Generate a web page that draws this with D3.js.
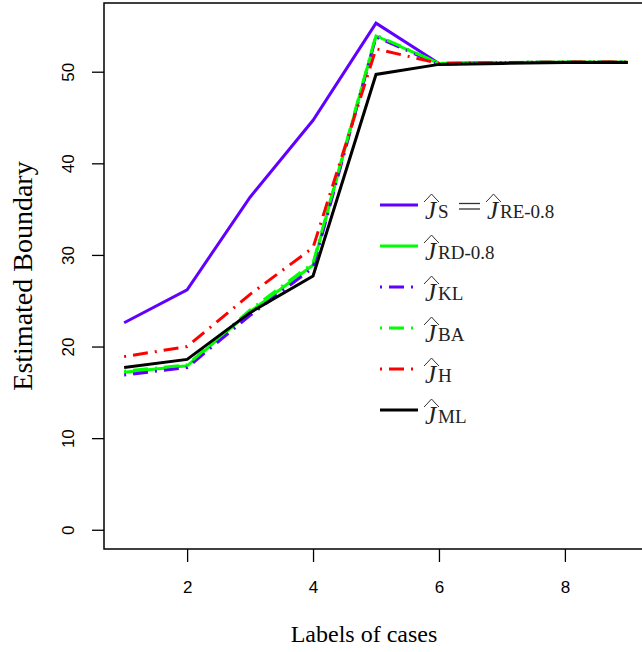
<!DOCTYPE html>
<html>
<head>
<meta charset="utf-8">
<script src="https://cdn.jsdelivr.net/npm/d3@7"></script>
<style>
  body { margin: 0; background: #fff; }
  svg { display: block; }
</style>
</head>
<body>
<div id="chart"></div>
<script>
// case labels on x
var cases = [1, 2, 3, 4, 5, 6, 7, 8, 9];
var xTicks = [2, 4, 6, 8];
var yTicks = [0, 10, 20, 30, 40, 50];

// estimated boundary per method
var jS  = [22.6, 26.2, 36.3, 44.7, 55.3, 50.9, 51.0, 51.0, 51.0];
var jRD = [17.2, 17.9, 23.8, 28.9, 53.9, 50.9, 51.0, 51.05, 51.05];
var jKL = [16.9, 17.7, 23.4, 28.6, 53.8, 50.8, 51.0, 51.05, 51.05];
var jBA = [17.3, 18.0, 24.0, 29.1, 54.0, 50.9, 51.0, 51.05, 51.05];
var jH  = [18.9, 20.0, 25.7, 30.8, 52.5, 50.9, 51.0, 51.05, 51.05];
var jML = [17.7, 18.6, 23.7, 27.7, 49.7, 50.8, 50.9, 51.0, 51.0];

var series = [
  { values: jS,  color: "#6200ff", dash: null,        sub: "S", sub2: "RE-0.8" },
  { values: jRD, color: "#00ff00", dash: null,        sub: "RD-0.8" },
  { values: jKL, color: "#6200ff", dash: "2,7,15,7", sub: "KL" },
  { values: jBA, color: "#00ff00", dash: "2,7,15,7", sub: "BA" },
  { values: jH,  color: "#ff0000", dash: "2,7,15,7", sub: "H" },
  { values: jML, color: "#000000", dash: null,        sub: "ML" }
];

// set the dimensions and margins of the graph
var W = 642, H = 652;
var margin = { top: 3, right: -6, bottom: 103, left: 104 },
  width = W - margin.left - margin.right,
  height = H - margin.top - margin.bottom;

var svg = d3.select("#chart").append("svg")
  .attr("width", W)
  .attr("height", H);

var g = svg.append("g")
  .attr("transform", `translate(${margin.left},${margin.top})`);

// R style padding of 4% on each side
var x = d3.scaleLinear().domain([0.68, 9.32]).range([0, width]);
var y = d3.scaleLinear().domain([-2.1, 57.5]).range([height, 0]);

// box
g.append("rect")
  .attr("x", 0).attr("y", 0)
  .attr("width", width).attr("height", height)
  .attr("fill", "none")
  .attr("stroke", "#000")
  .attr("stroke-width", 1.5);

// x axis
var xAxis = g.append("g")
  .attr("transform", `translate(0,${height})`)
  .call(d3.axisBottom(x).tickValues(xTicks).tickSize(13).tickPadding(19).tickFormat(d3.format("d")));
xAxis.select(".domain").remove();
xAxis.selectAll("line").attr("stroke-width", 1.3);
xAxis.selectAll("text")
  .style("font-family", "'Liberation Sans', Arial, sans-serif")
  .style("font-size", "17px")
  .attr("fill", "#000");

// y axis
var yAxis = g.append("g")
  .call(d3.axisLeft(y).tickValues(yTicks).tickSize(12).tickFormat(d3.format("d")));
yAxis.select(".domain").remove();
yAxis.selectAll("line").attr("stroke-width", 1.3);
yAxis.selectAll("text")
  .attr("x", 0).attr("dy", null)
  .attr("transform", "translate(-36,0) rotate(-90)")
  .attr("text-anchor", "middle")
  .attr("dominant-baseline", "central")
  .style("font-family", "'Liberation Sans', Arial, sans-serif")
  .style("font-size", "17px")
  .attr("fill", "#000");

// axis titles
svg.append("text")
  .attr("x", 364).attr("y", 642)
  .attr("text-anchor", "middle")
  .style("font-family", "'Liberation Serif', 'Times New Roman', serif")
  .style("font-size", "24px")
  .text("Labels of cases");

svg.append("text")
  .attr("transform", "translate(32,276) rotate(-90)")
  .attr("text-anchor", "middle")
  .style("font-family", "'Liberation Serif', 'Times New Roman', serif")
  .style("font-size", "28px")
  .text("Estimated Boundary");

// lines
svg.append("clipPath").attr("id", "clip")
  .append("rect").attr("width", width).attr("height", height);

var line = d3.line()
  .x((d, i) => x(cases[i]))
  .y(d => y(d));

series.forEach(s => {
  g.append("path")
    .datum(s.values)
    .attr("clip-path", "url(#clip)")
    .attr("fill", "none")
    .attr("stroke", s.color)
    .attr("stroke-width", 3)
    .attr("stroke-dasharray", s.dash)
    .attr("d", line);
});

// legend
var lx = 380, ly = 205, step = 41;
var serif = "'Liberation Serif', 'Times New Roman', serif";

function hatJ(gr, x0) {
  gr.append("path")
    .attr("d", `M${x0},-3 Q${x0 + 4},-7 ${x0 + 7.5},-11 Q${x0 + 11},-7 ${x0 + 15},-3`)
    .attr("fill", "none")
    .attr("stroke", "#333")
    .attr("stroke-width", 1);
  gr.append("text")
    .attr("x", x0 + 1).attr("y", 14)
    .style("font-family", serif)
    .style("font-style", "italic")
    .style("font-size", "25px")
    .attr("fill", "#222")
    .text("J");
}

series.forEach((s, i) => {
  var row = svg.append("g").attr("transform", `translate(0,${ly + i * step})`);
  row.append("line")
    .attr("x1", lx).attr("x2", lx + 38)
    .attr("stroke", s.color)
    .attr("stroke-width", 3)
    .attr("stroke-dasharray", s.dash);
  hatJ(row, 424);
  row.append("text")
    .attr("x", 438).attr("y", 13)
    .style("font-family", serif)
    .style("font-size", "19px")
    .attr("fill", "#222")
    .text(s.sub);
  if (s.sub2) {
    // math equals sign
    [-1.5, 4].forEach(dy => {
      row.append("line")
        .attr("x1", 459).attr("x2", 480)
        .attr("y1", dy).attr("y2", dy)
        .attr("stroke", "#333")
        .attr("stroke-width", 1.3);
    });
    hatJ(row, 486);
    row.append("text")
      .attr("x", 500).attr("y", 13)
      .style("font-family", serif)
      .style("font-size", "19px")
      .attr("fill", "#222")
      .text(s.sub2);
  }
});
</script>
</body>
</html>
